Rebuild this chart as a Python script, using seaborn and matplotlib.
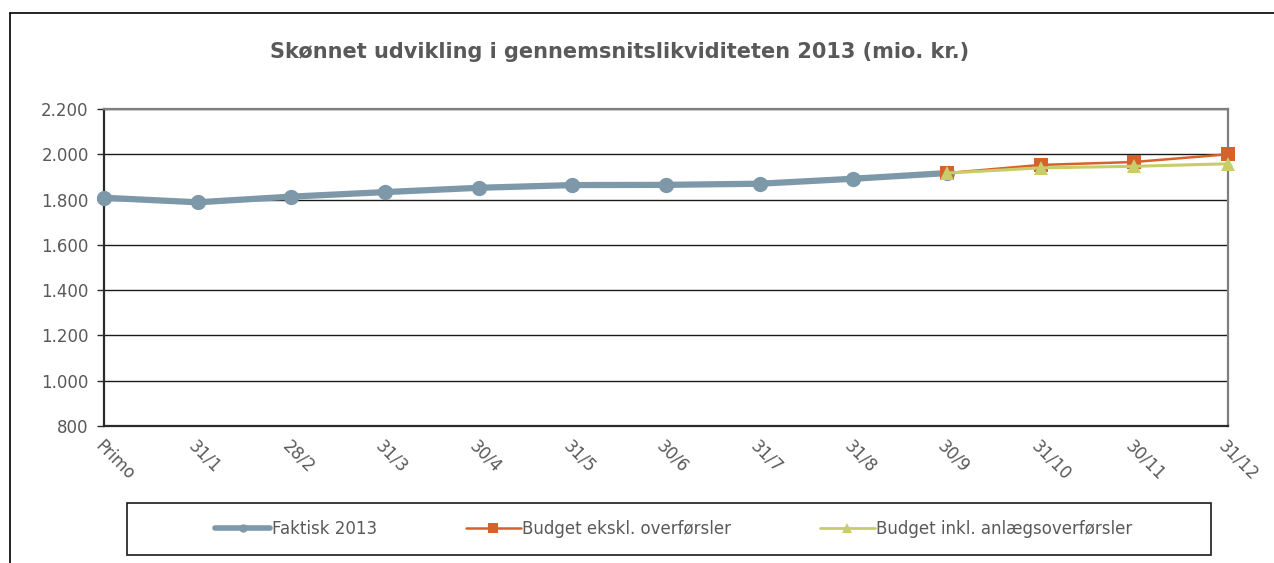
import matplotlib
matplotlib.use("Agg")
import matplotlib.pyplot as plt
from matplotlib.lines import Line2D
from matplotlib.patches import Rectangle
from matplotlib.ticker import FuncFormatter, FixedLocator
import seaborn as sns
import pandas as pd
import numpy as np

# ---- data ----
categories = ["Primo", "31/1", "28/2", "31/3", "30/4", "31/5", "30/6",
              "31/7", "31/8", "30/9", "31/10", "30/11", "31/12"]
faktisk = [1808, 1788, 1813, 1833, 1852, 1864, 1865, 1870, 1892, 1917]
budget_ekskl = [1917, 1953, 1966, 2000]
budget_inkl = [1917, 1940, 1947, 1958]
series_names = ["Faktisk 2013", "Budget ekskl. overførsler",
                "Budget inkl. anlægsoverførsler"]
title = "Skønnet udvikling i gennemsnitslikviditeten 2013 (mio. kr.)"

c_fakt = "#7C98A9"
c_eks = "#D5622B"
c_inkl = "#C8CD6A"
txt = "#595959"

sns.set_theme(style="white")
plt.rcParams["font.family"] = ["DejaVu Sans"]

fig = plt.figure(figsize=(12.74, 5.63), dpi=100)
ax = fig.add_axes([104/1274, 1-426/563, (1228-104)/1274, (426-109)/563])

pos = {c: i for i, c in enumerate(categories)}
df_f = pd.DataFrame({"x": [pos[c] for c in categories[:len(faktisk)]], "y": faktisk})
df_e = pd.DataFrame({"x": [pos[c] for c in categories[-len(budget_ekskl):]], "y": budget_ekskl})
df_i = pd.DataFrame({"x": [pos[c] for c in categories[-len(budget_inkl):]], "y": budget_inkl})

sns.lineplot(data=df_f, x="x", y="y", ax=ax, color=c_fakt, linewidth=4.5,
             marker="o", markersize=11, markeredgewidth=0, clip_on=False, zorder=3)
sns.lineplot(data=df_e, x="x", y="y", ax=ax, color=c_eks, linewidth=1.8,
             marker="s", markersize=10, markeredgewidth=0, clip_on=False, zorder=4)
sns.lineplot(data=df_i, x="x", y="y", ax=ax, color=c_inkl, linewidth=2.2,
             marker="^", markersize=10, markeredgewidth=0, clip_on=False, zorder=5)

ax.set_xlim(0, len(categories) - 1)
ax.set_ylim(800, 2200)
ax.yaxis.set_major_locator(FixedLocator(np.arange(800, 2201, 200)))
ax.yaxis.set_major_formatter(FuncFormatter(lambda v, p: f"{int(v):,}".replace(",", ".")))
ax.set_xticks(range(len(categories)))
ax.set_xticklabels(categories, rotation=-45, ha="left", va="top",
                   rotation_mode="anchor")
ax.set_xlabel("")
ax.set_ylabel("")
ax.grid(axis="y", color="#1a1a1a", linewidth=1.0)
ax.grid(axis="x", visible=False)
ax.set_axisbelow(True)

for s in ["left", "bottom"]:
    ax.spines[s].set_color("#2b2b2b")
    ax.spines[s].set_linewidth(1.6)
for s in ["top", "right"]:
    ax.spines[s].set_color("#7f7f7f")
    ax.spines[s].set_linewidth(1.6)

ax.tick_params(axis="y", which="major", left=True, length=5, width=1,
               color="#2b2b2b", labelsize=12, labelcolor=txt, pad=6)
ax.tick_params(axis="x", which="major", bottom=False, length=0,
               labelsize=12, labelcolor=txt, pad=8)

# title
fig.text(620/1274, 1-52/563, title, ha="center", va="center",
         fontsize=15, fontweight="bold", color=txt)

# outer frame lines
fig.add_artist(Line2D([10/1274, 1.0], [1-13/563, 1-13/563], color="black",
                      linewidth=1.2, transform=fig.transFigure))
fig.add_artist(Line2D([10/1274, 10/1274], [0, 1-13/563], color="black",
                      linewidth=1.2, transform=fig.transFigure))

# legend box
fig.add_artist(Rectangle((127/1274, 1-555/563), (1211-127)/1274, (555-503)/563,
                         transform=fig.transFigure, fill=False,
                         edgecolor="#1a1a1a", linewidth=1.2))
handles = [
    Line2D([], [], color=c_fakt, linewidth=4, marker="o", markersize=6,
           markeredgewidth=0),
    Line2D([], [], color=c_eks, linewidth=1.8, marker="s", markersize=7,
           markeredgewidth=0),
    Line2D([], [], color=c_inkl, linewidth=2, marker="^", markersize=7,
           markeredgewidth=0),
]
leg = fig.legend(handles, series_names, loc="center",
                 bbox_to_anchor=(674/1274, 1-529/563), ncol=3, frameon=False,
                 fontsize=12, handlelength=3.3, handletextpad=0.1,
                 columnspacing=5.3)
for t in leg.get_texts():
    t.set_color(txt)

fig.savefig("out.png", dpi=100)
